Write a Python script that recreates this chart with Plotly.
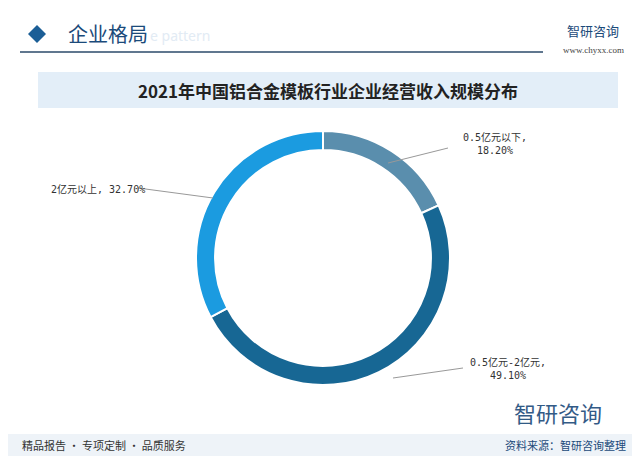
import plotly.graph_objects as go

labels = ["0.5亿元以下", "0.5亿元-2亿元", "2亿元以上"]
values = [18.20, 49.10, 32.70]
colors = ["#5a8ead", "#176794", "#1b9be0"]

W, H = 640, 456
fig = go.Figure(go.Pie(
    labels=labels, values=values, hole=0.85, sort=False, direction="clockwise",
    rotation=0, marker=dict(colors=colors, line=dict(color="white", width=2)),
    textinfo="none", hoverinfo="label+percent", showlegend=False,
    domain=dict(x=[(315-127)/W, (315+127)/W], y=[(206-127)/H, (206+127)/H])))

def px(x): return x / W
def py(y): return 1 - y / H

shapes = [
    dict(type="rect", xref="paper", yref="paper", x0=px(30), x1=px(610), y0=py(100), y1=py(64),
         fillcolor="#e3eef8", line=dict(width=0), layer="below"),
    dict(type="line", xref="paper", yref="paper", x0=px(12), x1=px(535), y0=py(44), y1=py(44),
         line=dict(color="#2b4a6a", width=1.5)),
    dict(type="rect", xref="paper", yref="paper", x0=0, x1=1, y0=0, y1=py(426),
         fillcolor="#eef3f8", line=dict(width=0), layer="below"),
    dict(type="path", xref="paper", yref="paper",
         path=f"M {px(20)} {py(26)} L {px(29)} {py(17)} L {px(38)} {py(26)} L {px(29)} {py(35)} Z",
         fillcolor="#1b5e96", line=dict(width=0)),
    dict(type="line", xref="paper", yref="paper", x0=px(380), y0=py(155), x1=px(440), y1=py(140),
         line=dict(color="#999", width=1)),
    dict(type="line", xref="paper", yref="paper", x0=px(130), y0=py(180), x1=px(205), y1=py(190),
         line=dict(color="#999", width=1)),
    dict(type="line", xref="paper", yref="paper", x0=px(385), y0=py(370), x1=px(455), y1=py(360),
         line=dict(color="#999", width=1)),
]

mono = "DejaVu Sans Mono, Noto Sans CJK SC"
ann = [
    dict(x=px(58), y=py(26), text="企业格局", font=dict(size=20, color="#1b4a7a", family="Noto Sans CJK SC"),
         xanchor="left"),
    dict(x=px(140), y=py(28), text="e pattern", font=dict(size=14, color="#e2ebf4", family="Noto Sans"),
         xanchor="left"),
    dict(x=px(585), y=py(22), text="智研咨询", font=dict(size=13, color="#1b4a7a", family="Noto Sans CJK SC"),
         xanchor="center"),
    dict(x=px(585), y=py(42), text="www.chyxx.com", font=dict(size=9, color="#444", family="Liberation Serif"),
         xanchor="center"),
    dict(x=0.5, y=py(82), text="<b>2021年中国铝合金模板行业企业经营收入规模分布</b>",
         font=dict(size=17, color="#222", family="Noto Sans CJK SC"), xanchor="center"),
    dict(x=px(487), y=py(135), text=f"{labels[0]},<br>{values[0]:.2f}%", font=dict(size=10, color="#333", family=mono),
         xanchor="center", align="center"),
    dict(x=px(90), y=py(181), text=f"{labels[2]}, {values[2]:.2f}%", font=dict(size=10, color="#333", family=mono),
         xanchor="center"),
    dict(x=px(500), y=py(360), text=f"{labels[1]},<br>{values[1]:.2f}%", font=dict(size=10, color="#333", family=mono),
         xanchor="center", align="center"),
    dict(x=px(12), y=py(437), text="精品报告 · 专项定制 · 品质服务", font=dict(size=11, color="#333", family="Noto Sans CJK SC"),
         xanchor="left"),
    dict(x=px(620), y=py(437), text="资料来源：智研咨询整理", font=dict(size=11, color="#1b4a7a", family="Noto Sans CJK SC"),
         xanchor="right"),
    dict(x=px(550), y=py(404), text="智研咨询", font=dict(size=22, color="#1b4a7a", family="Noto Sans CJK SC"),
         xanchor="center", opacity=0.9),
]
for a in ann:
    a.update(xref="paper", yref="paper", showarrow=False, yanchor="middle")

fig.update_layout(width=W, height=H, margin=dict(l=0, r=0, t=0, b=0),
                  paper_bgcolor="white", plot_bgcolor="white", shapes=shapes, annotations=ann)
fig.write_html("out.html")
